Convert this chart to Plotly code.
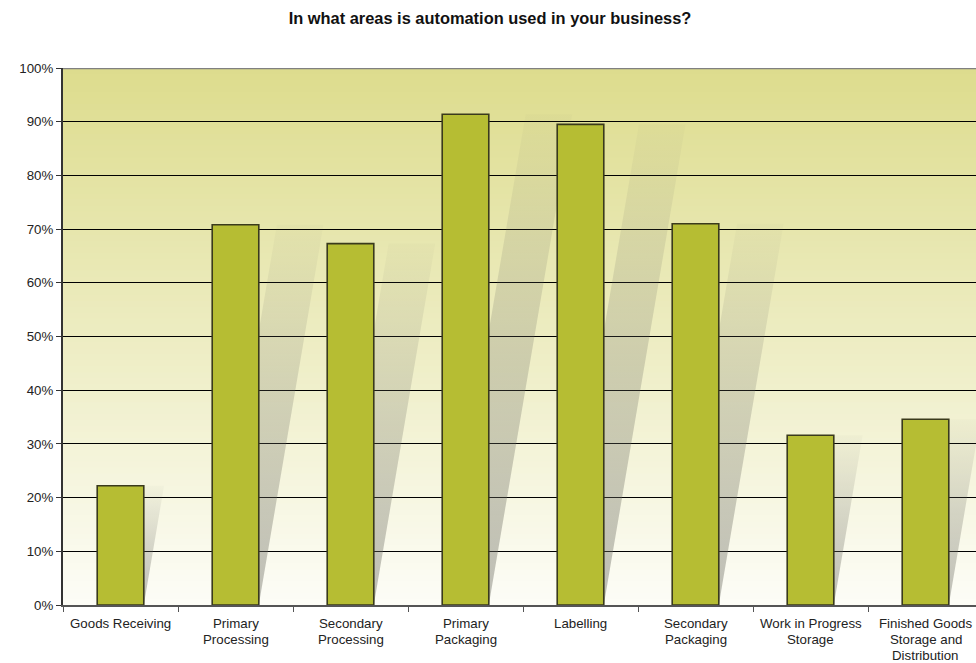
import plotly.graph_objects as go

# Survey results: share of businesses using automation in each area
areas = [
    "Goods Receiving",
    "Primary<br>Processing",
    "Secondary<br>Processing",
    "Primary<br>Packaging",
    "Labelling",
    "Secondary<br>Packaging",
    "Work in Progress<br>Storage",
    "Finished Goods<br>Storage and<br>Distribution",
]
usage_pct = [22.2, 70.8, 67.3, 91.4, 89.5, 71.0, 31.6, 34.6]

y_ticks = list(range(0, 101, 10))
y_tick_labels = [f"{v}%" for v in y_ticks]

W, H = 976, 663
M_L, M_R, M_T, M_B = 63, 0, 68, 58
CAT_PX = 115.0                     # pixel width of one category slot
plot_w = W - M_L - M_R
plot_h = H - M_T - M_B
x_lo = -0.5
x_hi = x_lo + plot_w / CAT_PX
BAR_W = 0.405
SLANT = 0.17                       # horizontal shadow drift per vertical pixel
FONT = "Liberation Sans, Arial, sans-serif"
LABEL_SIZE = 13.3
LINE_GAP = 16                      # pixel spacing between label lines
FIRST_LINE = 18                    # pixel offset of first label line below axis

xs = list(range(len(areas)))
px_per_unit_y = plot_h / 100.0

fig = go.Figure()

# Slanted translucent shadows behind each bar, fading toward their top
shadow_scale = [
    [0.0, "rgba(110,110,100,0.44)"],
    [0.5, "rgba(110,110,100,0.26)"],
    [1.0, "rgba(110,110,100,0.03)"],
]
for xi, v in zip(xs, usage_pct):
    left0 = xi - BAR_W / 2
    drift = SLANT * v * px_per_unit_y / CAT_PX
    fig.add_trace(go.Scatter(
        x=[left0, left0 + BAR_W, left0 + BAR_W + drift, left0 + drift, left0],
        y=[0, 0, v, v, 0],
        mode="lines",
        line=dict(width=0),
        fill="toself",
        fillgradient=dict(type="vertical", colorscale=shadow_scale,
                          start=0, stop=v),
        hoverinfo="skip",
        xaxis="x", yaxis="y",
    ))

# Bars on an overlaid axis pair so they sit above the shadows
fig.add_trace(go.Bar(
    x=xs,
    y=usage_pct,
    width=BAR_W,
    marker=dict(color="#B6BD33", line=dict(color="#3A3A1C", width=1.6)),
    hoverinfo="y",
    xaxis="x2", yaxis="y2",
))

shapes = []

# Vertical background gradient, olive at the top fading to near white
top_rgb = (221, 220, 141)
bot_rgb = (253, 253, 247)
n_bands = 90
for i in range(n_bands):
    t = (i + 0.5) / n_bands
    c = tuple(round(bot_rgb[k] + (top_rgb[k] - bot_rgb[k]) * t) for k in range(3))
    shapes.append(dict(
        type="rect", xref="paper", yref="y", layer="below",
        x0=0, x1=1, y0=100 * i / n_bands, y1=min(100, 100 * (i + 1.8) / n_bands),
        fillcolor=f"rgb{c}", line=dict(width=0),
    ))

# Grey frame line along the top of the plotting area
shapes.append(dict(
    type="line", xref="paper", yref="y", layer="above",
    x0=0, x1=1, y0=100, y1=100, line=dict(color="#808080", width=2.5),
))

# Category labels, one annotation per line for tight line spacing
annotations = []
for xi, label in zip(xs, areas):
    for k, part in enumerate(label.split("<br>")):
        annotations.append(dict(
            x=xi, xref="x", y=0, yref="paper",
            text=part, showarrow=False,
            xanchor="center", yanchor="middle",
            yshift=-(FIRST_LINE + LINE_GAP * k),
            font=dict(family=FONT, size=LABEL_SIZE, color="#222222"),
        ))

fig.update_layout(
    width=W, height=H,
    margin=dict(l=M_L, r=M_R, t=M_T, b=M_B, autoexpand=False),
    paper_bgcolor="white",
    plot_bgcolor="rgba(0,0,0,0)",
    showlegend=False,
    shapes=shapes,
    annotations=annotations,
    font=dict(family=FONT, size=LABEL_SIZE, color="#222222"),
    title=dict(
        text="<b>In what areas is automation used in your business?</b>",
        x=(490 - M_L) / plot_w, xref="paper", xanchor="center",
        y=1 - 18 / H, yref="container", yanchor="middle",
        font=dict(family=FONT, size=16.4, color="#111111"),
        automargin=False,
    ),
    xaxis=dict(
        range=[x_lo, x_hi],
        showticklabels=False,
        tickvals=[i - 0.5 for i in range(len(areas) + 1)],
        ticks="outside", ticklen=5, tickcolor="#555555", tickwidth=1,
        showgrid=False, zeroline=False,
        showline=True, linecolor="#555555", linewidth=2,
        fixedrange=True, automargin=False,
    ),
    yaxis=dict(
        range=[0, 100],
        tickvals=y_ticks, ticktext=y_tick_labels,
        ticks="outside", ticklen=5, tickcolor="#333333",
        showgrid=True, gridcolor="#000000", gridwidth=1,
        zeroline=False,
        showline=True, linecolor="#333333", linewidth=2,
        fixedrange=True, automargin=False,
    ),
    xaxis2=dict(range=[x_lo, x_hi], overlaying="x", matches="x",
                visible=False, fixedrange=True, automargin=False),
    yaxis2=dict(range=[0, 100], overlaying="y", matches="y",
                visible=False, fixedrange=True, automargin=False),
)

fig.write_html("out.html")
